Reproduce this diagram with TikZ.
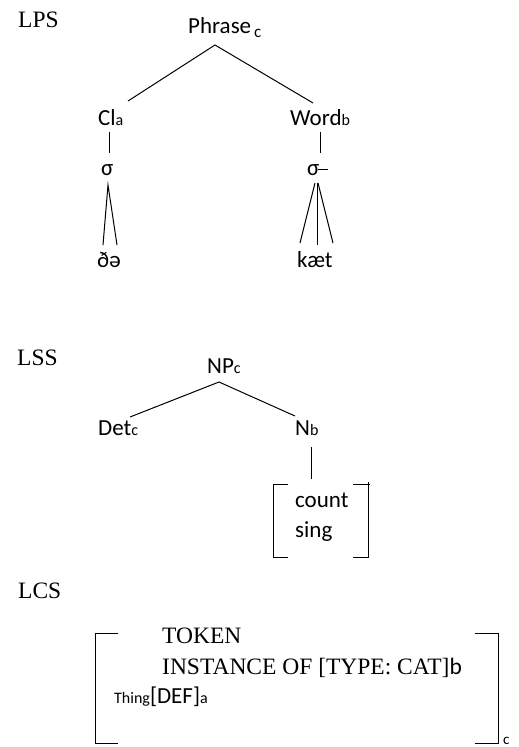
\documentclass[tikz,border=0pt]{standalone}
\usepackage{fontspec}
\setmainfont{Liberation Serif}
\newfontfamily\calib{Carlito}
\newcommand\sbs[1]{{\fontsize{16}{16}\selectfont #1}}
\begin{document}
\begin{tikzpicture}[x=1pt,y=-1pt,
  sf/.style={font=\calib\fontsize{23}{27}\selectfont, inner sep=0pt, anchor=base west},
  rm/.style={font=\fontsize{23.5}{27}\selectfont, inner sep=0pt, anchor=base west},
  ln/.style={line width=1pt, black}]
\useasboundingbox (0,0) rectangle (519,747);
% ---------- LPS ----------
\node[rm] (lps) at (18,27) {LPS};
\node[sf] (phrase) at (188,33) {Phrase\hspace{3pt}\raisebox{-4pt}{\fontsize{17}{17}\selectfont c}};
\node[sf] (cl) at (98,125) {Cl\sbs{a}};
\node[sf] (word) at (290,125) {Word\sbs{b}};
\node[sf] (sig1) at (101,175) {σ};
\node[sf] (sig2) at (307,175) {σ};
\node[sf] (dha) at (97,267) {ðə};
\node[sf] (kaet) at (297,267) {kæt};
\coordinate (pA) at (215,45);
\coordinate (clT) at (128,101);
\coordinate (wT) at (313,103);
\draw[ln] (clT) -- (pA) -- (wT);
\coordinate (cl1) at (109,132); \coordinate (cl2) at (109,153);
\draw[ln] (cl1) -- (cl2);
\coordinate (w1) at (320,132); \coordinate (w2) at (320,153);
\draw[ln] (w1) -- (w2);
\coordinate (s1a) at (108,185);
\coordinate (d1) at (103,245); \coordinate (d2) at (117,245);
\draw[ln] (d1) -- (s1a) -- (d2);
\coordinate (s2a) at (315,183); \coordinate (s2b) at (317,183); \coordinate (s2c) at (318,183);
\coordinate (k1) at (300,243); \coordinate (k2) at (317,245); \coordinate (k3) at (333,243);
\draw[ln] (s2a) -- (k1);
\draw[ln] (s2b) -- (k2);
\draw[ln] (s2c) -- (k3);
\coordinate (dash1) at (318,169); \coordinate (dash2) at (328,169);
\draw[ln] (dash1) -- (dash2);
% ---------- LSS ----------
\node[rm] (lss) at (17,365) {LSS};
\node[sf] (np) at (207,373) {NP\sbs{c}};
\node[sf] (det) at (98,435) {Det\sbs{c}};
\node[sf] (n) at (295,435) {N\sbs{b}};
\coordinate (npA) at (219,382);
\coordinate (detT) at (130,417);
\coordinate (nT) at (295,416);
\draw[ln] (detT) -- (npA) -- (nT);
\coordinate (n1) at (311,447); \coordinate (n2) at (311,479);
\draw[ln] (n1) -- (n2);
\coordinate (lb1) at (288,484); \coordinate (lb2) at (273,484);
\coordinate (lb3) at (273,557); \coordinate (lb4) at (288,557);
\draw[ln] (lb1) -- (lb2) -- (lb3) -- (lb4);
\coordinate (rb1) at (353,484); \coordinate (rb2) at (370,484);
\coordinate (rb0) at (368,482);
\coordinate (rb3) at (368,557); \coordinate (rb4) at (353,557);
\draw[ln] (rb1) -- (rb2);
\draw[ln] (rb0) -- (rb3) -- (rb4);
\node[sf] (count) at (295,507) {count};
\node[sf] (sing) at (295,537) {sing};
% ---------- LCS ----------
\node[rm] (lcs) at (18,598) {LCS};
\coordinate (Lb1) at (118,633); \coordinate (Lb2) at (95,633);
\coordinate (Lb3) at (95,743); \coordinate (Lb4) at (118,743);
\draw[ln] (Lb1) -- (Lb2) -- (Lb3) -- (Lb4);
\coordinate (Rb1) at (475,633); \coordinate (Rb2) at (498,633);
\coordinate (Rb3) at (498,743); \coordinate (Rb4) at (475,743);
\draw[ln] (Rb1) -- (Rb2) -- (Rb3) -- (Rb4);
\node[sf, font=\calib\fontsize{15}{15}\selectfont] (csub) at (503,744) {c};
\node[rm] (token) at (162,643) {TOKEN};
\node[rm] (inst) at (162,674) {INSTANCE OF [TYPE: CAT]{\calib b}};
\node[sf] (thing) at (114,703) {{\fontsize{16}{16}\selectfont Thing}[DEF]\sbs{a}};
\end{tikzpicture}
\end{document}
